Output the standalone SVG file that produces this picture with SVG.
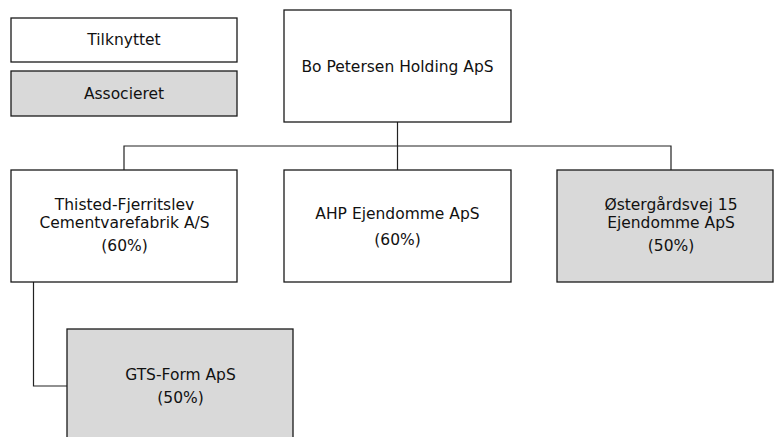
<svg xmlns="http://www.w3.org/2000/svg" width="776" height="437" viewBox="0 0 776 437">
<style>
.box{fill:#ffffff;stroke:#1a1a1a;stroke-width:1.3}
.assoc{fill:#d9d9d9;stroke:#1a1a1a;stroke-width:1.3}
.t{font-family:"DejaVu Sans",Verdana,sans-serif;font-size:15.5px;fill:#111;text-anchor:middle}
.c{fill:none;stroke:#222;stroke-width:1.2}
</style>
<rect width="776" height="437" fill="#ffffff"/>
<g id="connectors">
<path class="c" d="M397.5 122 V170"/>
<path class="c" d="M124 170 V146 H671 V170"/>
<path class="c" d="M33.5 282 V386 H67"/>
</g>
<g id="legend-tilknyttet">
<rect class="box" x="11" y="18" width="226" height="44"/>
<text class="t" x="124" y="45">Tilknyttet</text>
</g>
<g id="legend-associeret">
<rect class="assoc" x="11" y="71" width="226" height="45"/>
<text class="t" x="124" y="99">Associeret</text>
</g>
<g id="bo-petersen">
<rect class="box" x="284" y="10" width="227" height="112"/>
<text class="t" x="397.5" y="71.5">Bo Petersen Holding ApS</text>
</g>
<g id="thisted">
<rect class="box" x="11" y="170" width="226" height="112"/>
<text class="t" x="124.5" y="210">Thisted-Fjerritslev</text>
<text class="t" x="124.5" y="227.5">Cementvarefabrik A/S</text>
<text class="t" x="124.5" y="251">(60%)</text>
</g>
<g id="ahp">
<rect class="box" x="284" y="170" width="227" height="112"/>
<text class="t" x="397.5" y="219">AHP Ejendomme ApS</text>
<text class="t" x="397.5" y="244.5">(60%)</text>
</g>
<g id="ostergardsvej">
<rect class="assoc" x="557" y="170" width="216" height="112"/>
<text class="t" x="671" y="210">Østergårdsvej 15</text>
<text class="t" x="671" y="227.5">Ejendomme ApS</text>
<text class="t" x="671" y="251">(50%)</text>
</g>
<g id="gts-form">
<rect class="assoc" x="67" y="329" width="226" height="115"/>
<text class="t" x="180.5" y="379.5">GTS-Form ApS</text>
<text class="t" x="180.5" y="403">(50%)</text>
</g>
</svg>
